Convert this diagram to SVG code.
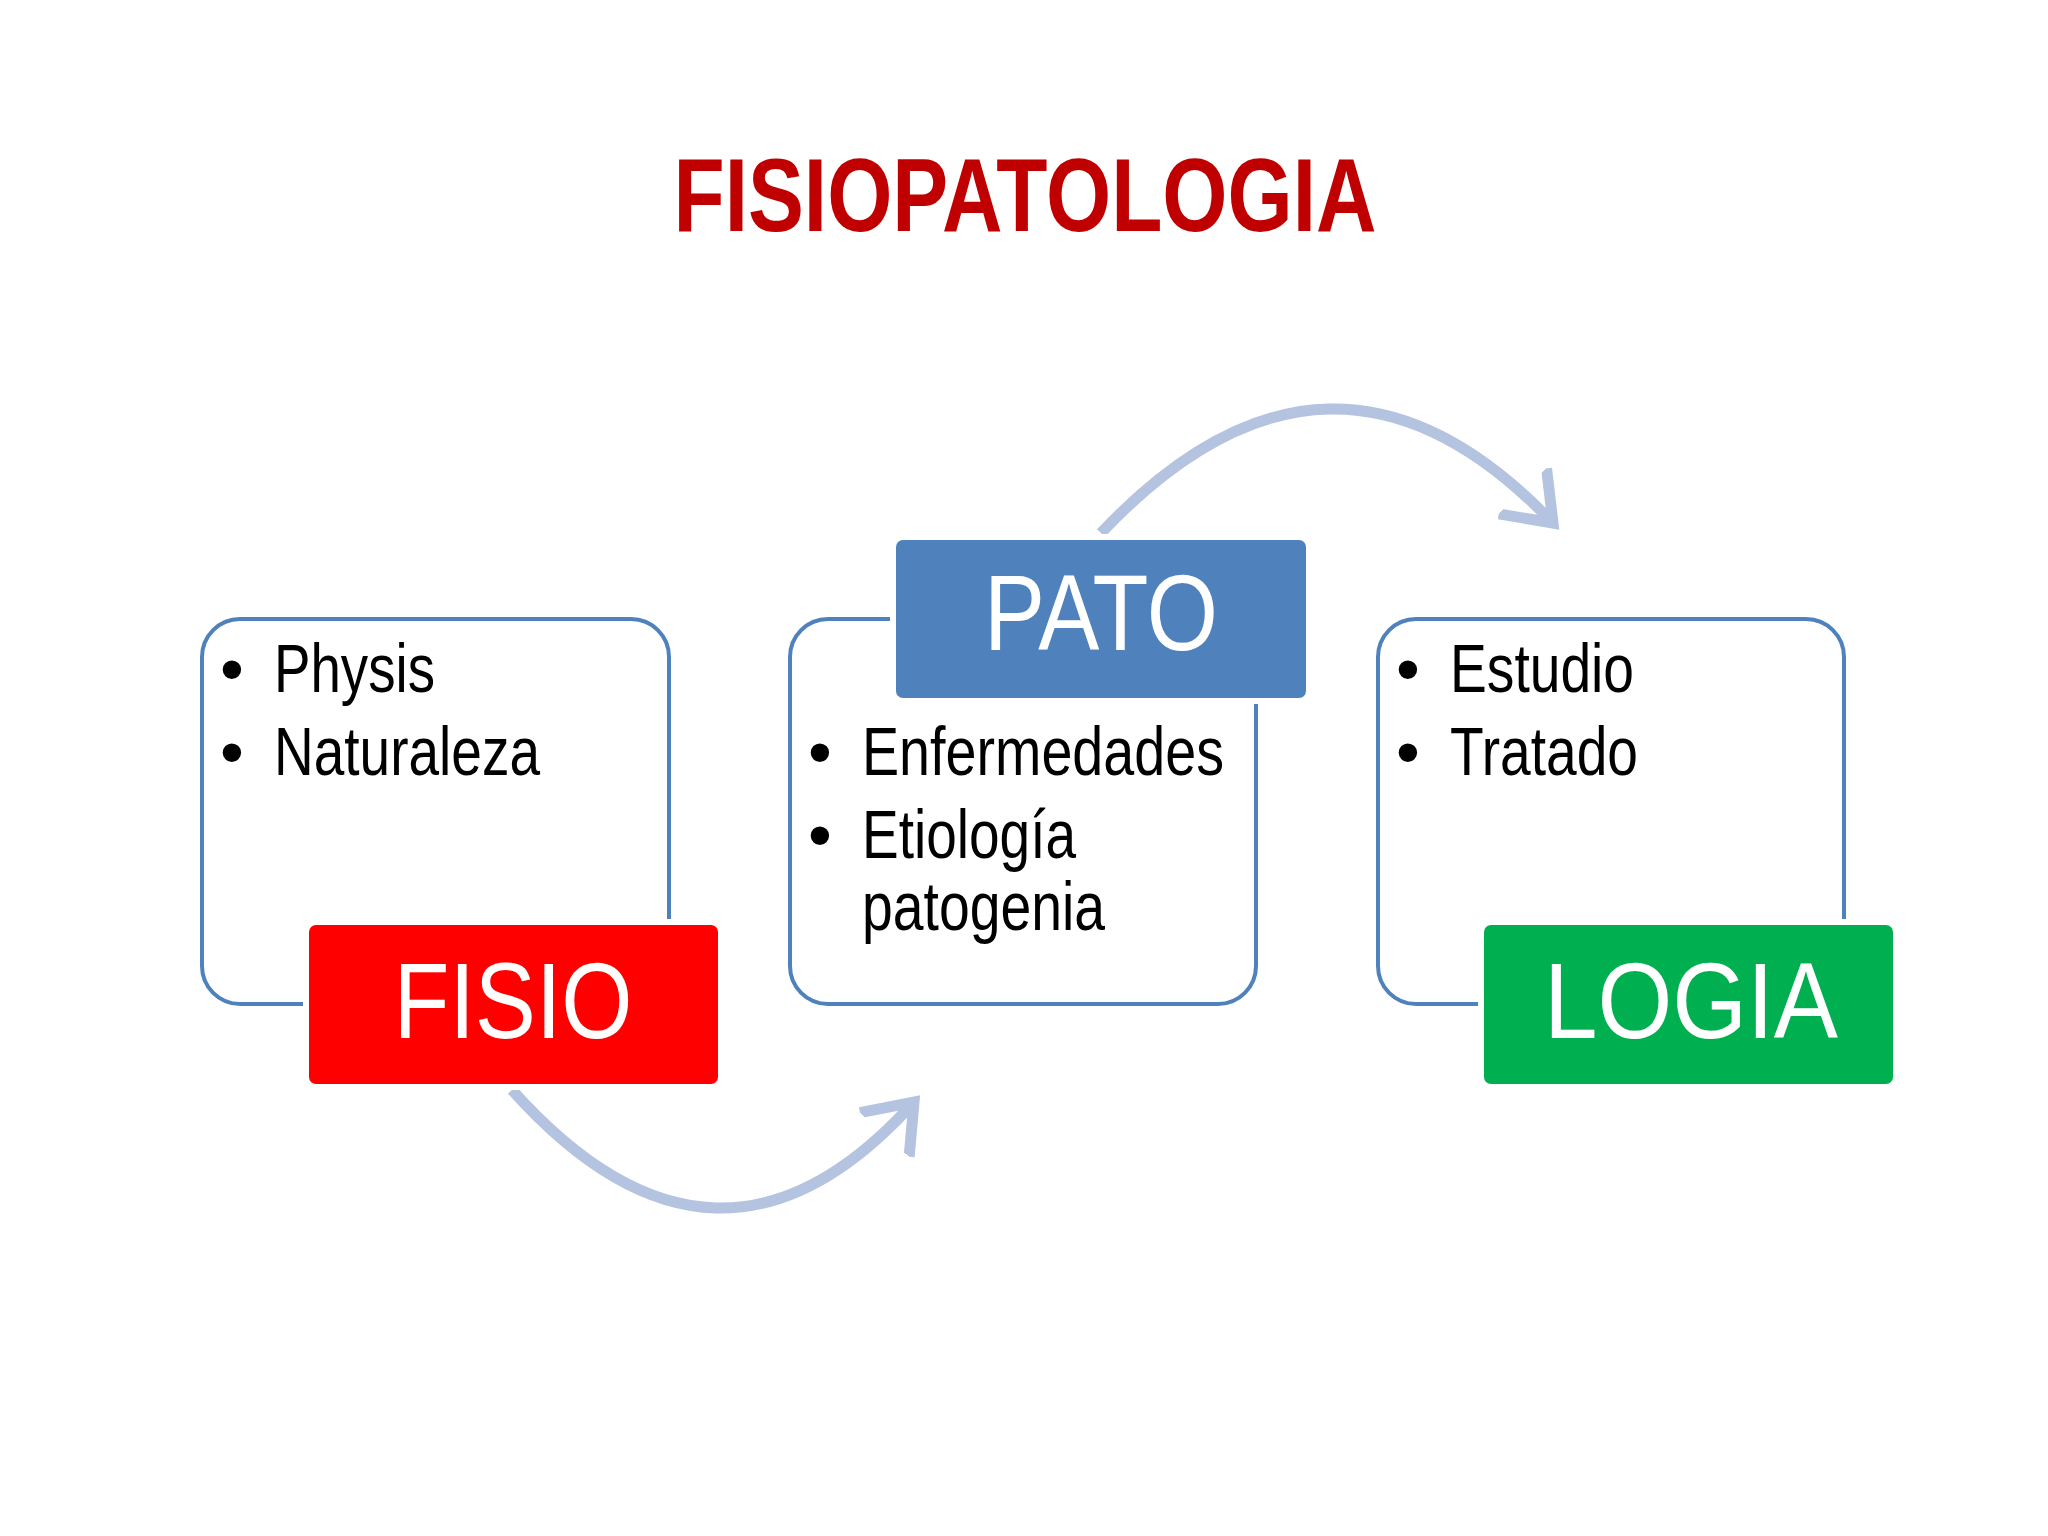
<svg xmlns="http://www.w3.org/2000/svg" width="2048" height="1536" viewBox="0 0 2048 1536">
<style>
.box{fill:#fff;stroke:#4F81BD;stroke-width:4}
.lab{stroke:#fff;stroke-width:6}
.lt{font-family:"Liberation Sans",Arial,sans-serif;fill:#fff;font-size:108px;text-anchor:middle}
.bt{font-family:"Liberation Sans",Arial,sans-serif;fill:#000;font-size:68px}
.arc{fill:none;stroke:#B4C3E0;stroke-width:11}
</style>
<defs>
<marker id="ah" markerWidth="8" markerHeight="8" refX="4" refY="4" orient="auto" markerUnits="strokeWidth">
<path d="M0,1 L4,4 L0,7" fill="none" stroke="#B4C3E0" stroke-width="1"/>
</marker>
</defs>
<rect width="2048" height="1536" fill="#fff"/>
<text x="1025" y="231" font-family="Liberation Sans,Arial,sans-serif" font-weight="bold" font-size="104" fill="#C00000" text-anchor="middle" textLength="703" lengthAdjust="spacingAndGlyphs">FISIOPATOLOGIA</text>
<g id="connectors">
<path class="arc" d="M512 1090 Q718 1320 914 1102" marker-end="url(#ah)"/>
<path class="arc" d="M1101 533 Q1331 290 1553 523" marker-end="url(#ah)"/>
</g>
<g id="fisio">
<rect class="box" x="202" y="619" width="467" height="385" rx="38"/>
<rect class="lab" x="306" y="922" width="415" height="165" rx="10" fill="#FF0000"/>
<text class="lt" x="513" y="1038" textLength="239" lengthAdjust="spacingAndGlyphs">FISIO</text>
<text class="bt" x="220" y="692">•</text><text class="bt" x="274" y="692" textLength="161" lengthAdjust="spacingAndGlyphs">Physis</text>
<text class="bt" x="220" y="775">•</text><text class="bt" x="274" y="775" textLength="266" lengthAdjust="spacingAndGlyphs">Naturaleza</text>
</g>
<g id="pato">
<rect class="box" x="790" y="619" width="466" height="385" rx="38"/>
<rect class="lab" x="893" y="537" width="416" height="164" rx="10" fill="#4F81BD"/>
<text class="lt" x="1101" y="650" textLength="234" lengthAdjust="spacingAndGlyphs">PATO</text>
<text class="bt" x="808" y="775">•</text><text class="bt" x="862" y="775" textLength="362" lengthAdjust="spacingAndGlyphs">Enfermedades</text>
<text class="bt" x="808" y="858">•</text><text class="bt" x="862" y="858" textLength="214" lengthAdjust="spacingAndGlyphs">Etiología</text>
<text class="bt" x="862" y="930" textLength="243" lengthAdjust="spacingAndGlyphs">patogenia</text>
</g>
<g id="logia">
<rect class="box" x="1378" y="619" width="466" height="385" rx="38"/>
<rect class="lab" x="1481" y="922" width="415" height="165" rx="10" fill="#00B050"/>
<text class="lt" x="1691" y="1038" textLength="294" lengthAdjust="spacingAndGlyphs">LOGIA</text>
<text class="bt" x="1396" y="692">•</text><text class="bt" x="1450" y="692" textLength="184" lengthAdjust="spacingAndGlyphs">Estudio</text>
<text class="bt" x="1396" y="775">•</text><text class="bt" x="1450" y="775" textLength="188" lengthAdjust="spacingAndGlyphs">Tratado</text>
</g>
</svg>
